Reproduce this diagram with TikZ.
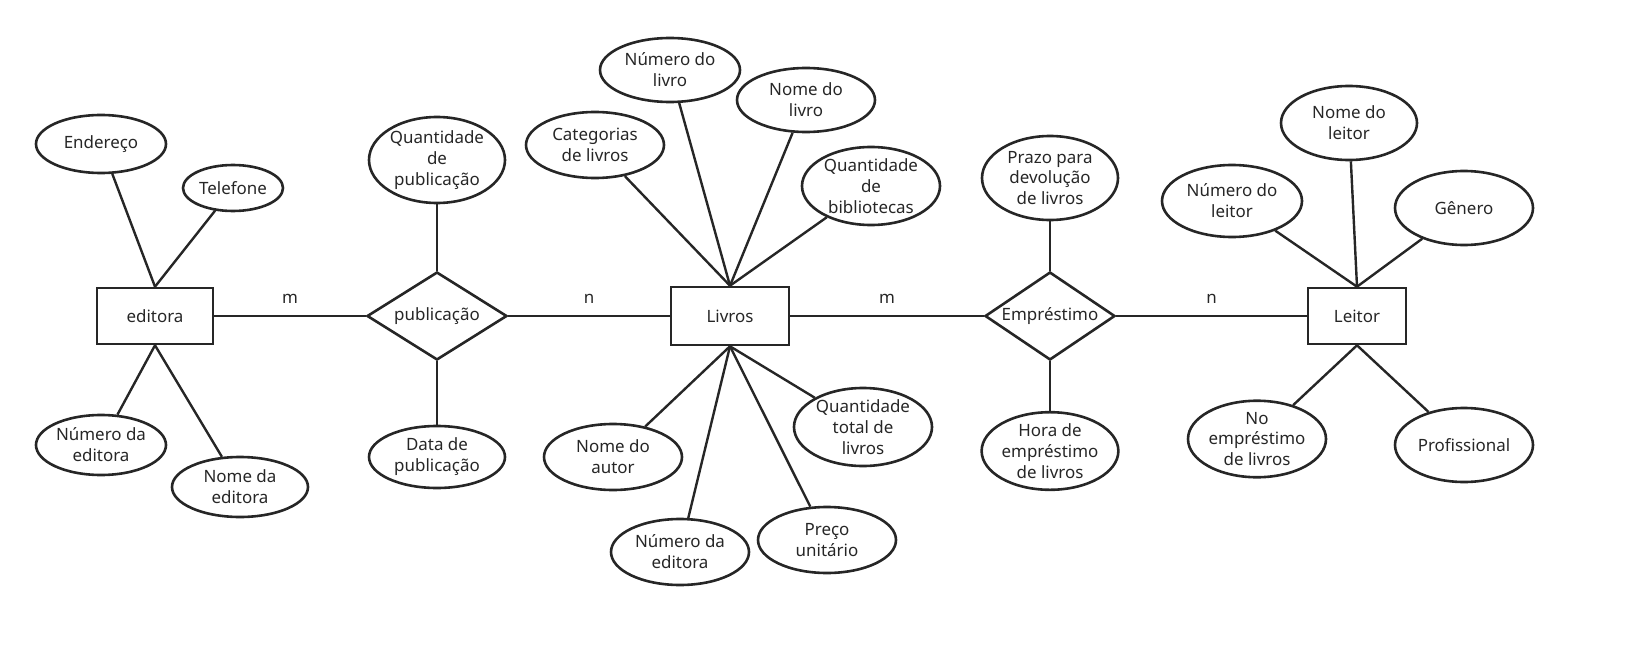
\documentclass[tikz,border=0pt]{standalone}
\usepackage{fontspec}
\setmainfont{Noto Sans}
\usetikzlibrary{shapes.geometric}
\begin{document}
\begin{tikzpicture}[x=1bp,y=-1bp,
  every node/.style={font=\fontsize{17}{21}\selectfont, text=black!85},
  ent/.style={draw=black!85,line width=2.6bp,rectangle,inner sep=0pt},
  rel/.style={draw=black!85,line width=2.6bp,diamond,aspect=1.6,inner sep=0pt},
  att/.style={draw=black!85,line width=2.6bp,ellipse,align=center,inner sep=0pt},
  lnk/.style={draw=black!85,line width=2.4bp}]
\useasboundingbox (0,0) rectangle (1637,650);
% entities
\node[ent,minimum width=116bp,minimum height=56bp] (ed) at (155,316) {editora};
\node[ent,minimum width=118bp,minimum height=58bp] (li) at (730,316) {Livros};
\node[ent,minimum width=98bp,minimum height=56bp] (le) at (1357,316) {Leitor};
\node[rel,minimum width=140bp,minimum height=88bp] (pu) at (437,316) {publicação};
\node[rel,minimum width=130bp,minimum height=88bp] (em) at (1050,316) {Empréstimo};
% attributes
\node[att,minimum width=130bp,minimum height=58bp] (a1) at (101,144) {Endereço};
\node[att,minimum width=100bp,minimum height=46bp] (a2) at (233,188) {Telefone};
\node[att,minimum width=130bp,minimum height=60bp] (a3) at (101,445) {Número da\\editora};
\node[att,minimum width=136bp,minimum height=60bp] (a4) at (240,487) {Nome da\\editora};
\node[att,minimum width=136bp,minimum height=86bp] (b1) at (437,160) {Quantidade\\de\\publicação};
\node[att,minimum width=136bp,minimum height=62bp] (b2) at (437,457) {Data de\\publicação};
\node[att,minimum width=138bp,minimum height=66bp] (c1) at (595,145) {Categorias\\de livros};
\node[att,minimum width=140bp,minimum height=64bp] (c2) at (670,70) {Número do\\livro};
\node[att,minimum width=138bp,minimum height=64bp] (c3) at (806,100) {Nome do\\livro};
\node[att,minimum width=138bp,minimum height=78bp] (c4) at (871,186) {Quantidade\\de\\bibliotecas};
\node[att,minimum width=138bp,minimum height=66bp] (c5) at (613,457) {Nome do\\autor};
\node[att,minimum width=138bp,minimum height=66bp] (c6) at (680,552) {Número da\\editora};
\node[att,minimum width=138bp,minimum height=78bp] (c7) at (863,427) {Quantidade\\total de\\livros};
\node[att,minimum width=138bp,minimum height=66bp] (c8) at (827,540) {Preço\\unitário};
\node[att,minimum width=136bp,minimum height=84bp] (d1) at (1050,178) {Prazo para\\devolução\\de livros};
\node[att,minimum width=136bp,minimum height=62bp] (d2) at (1050,451) {Hora de\\empréstimo\\de livros};
\node[att,minimum width=140bp,minimum height=72bp] (e1) at (1232,201) {Número do\\leitor};
\node[att,minimum width=136bp,minimum height=74bp] (e2) at (1349,123) {Nome do\\leitor};
\node[att,minimum width=138bp,minimum height=74bp] (e3) at (1464,208) {Gênero};
\node[att,minimum width=138bp,minimum height=74bp] (e4) at (1257,439) {No\\empréstimo\\de livros};
\node[att,minimum width=138bp,minimum height=74bp] (e5) at (1464,445) {Profissional};
% relationship lines
\draw[lnk] (ed) -- node[above=8bp]{m} (pu);
\draw[lnk] (pu) -- node[above=8bp]{n} (li);
\draw[lnk] (li) -- node[above=8bp]{m} (em);
\draw[lnk] (em) -- node[above=8bp]{n} (le);
% attribute lines
\foreach \a in {a1,a2} \draw[lnk] (\a) -- (ed.north);
\foreach \a in {a3,a4} \draw[lnk] (\a) -- (ed.south);
\draw[lnk] (b1) -- (pu.north);
\draw[lnk] (b2) -- (pu.south);
\foreach \a in {c1,c2,c3,c4} \draw[lnk] (\a) -- (li.north);
\foreach \a in {c5,c6,c7,c8} \draw[lnk] (\a) -- (li.south);
\draw[lnk] (d1) -- (em.north);
\draw[lnk] (d2) -- (em.south);
\foreach \a in {e1,e2,e3} \draw[lnk] (\a) -- (le.north);
\foreach \a in {e4,e5} \draw[lnk] (\a) -- (le.south);
\end{tikzpicture}
\end{document}
